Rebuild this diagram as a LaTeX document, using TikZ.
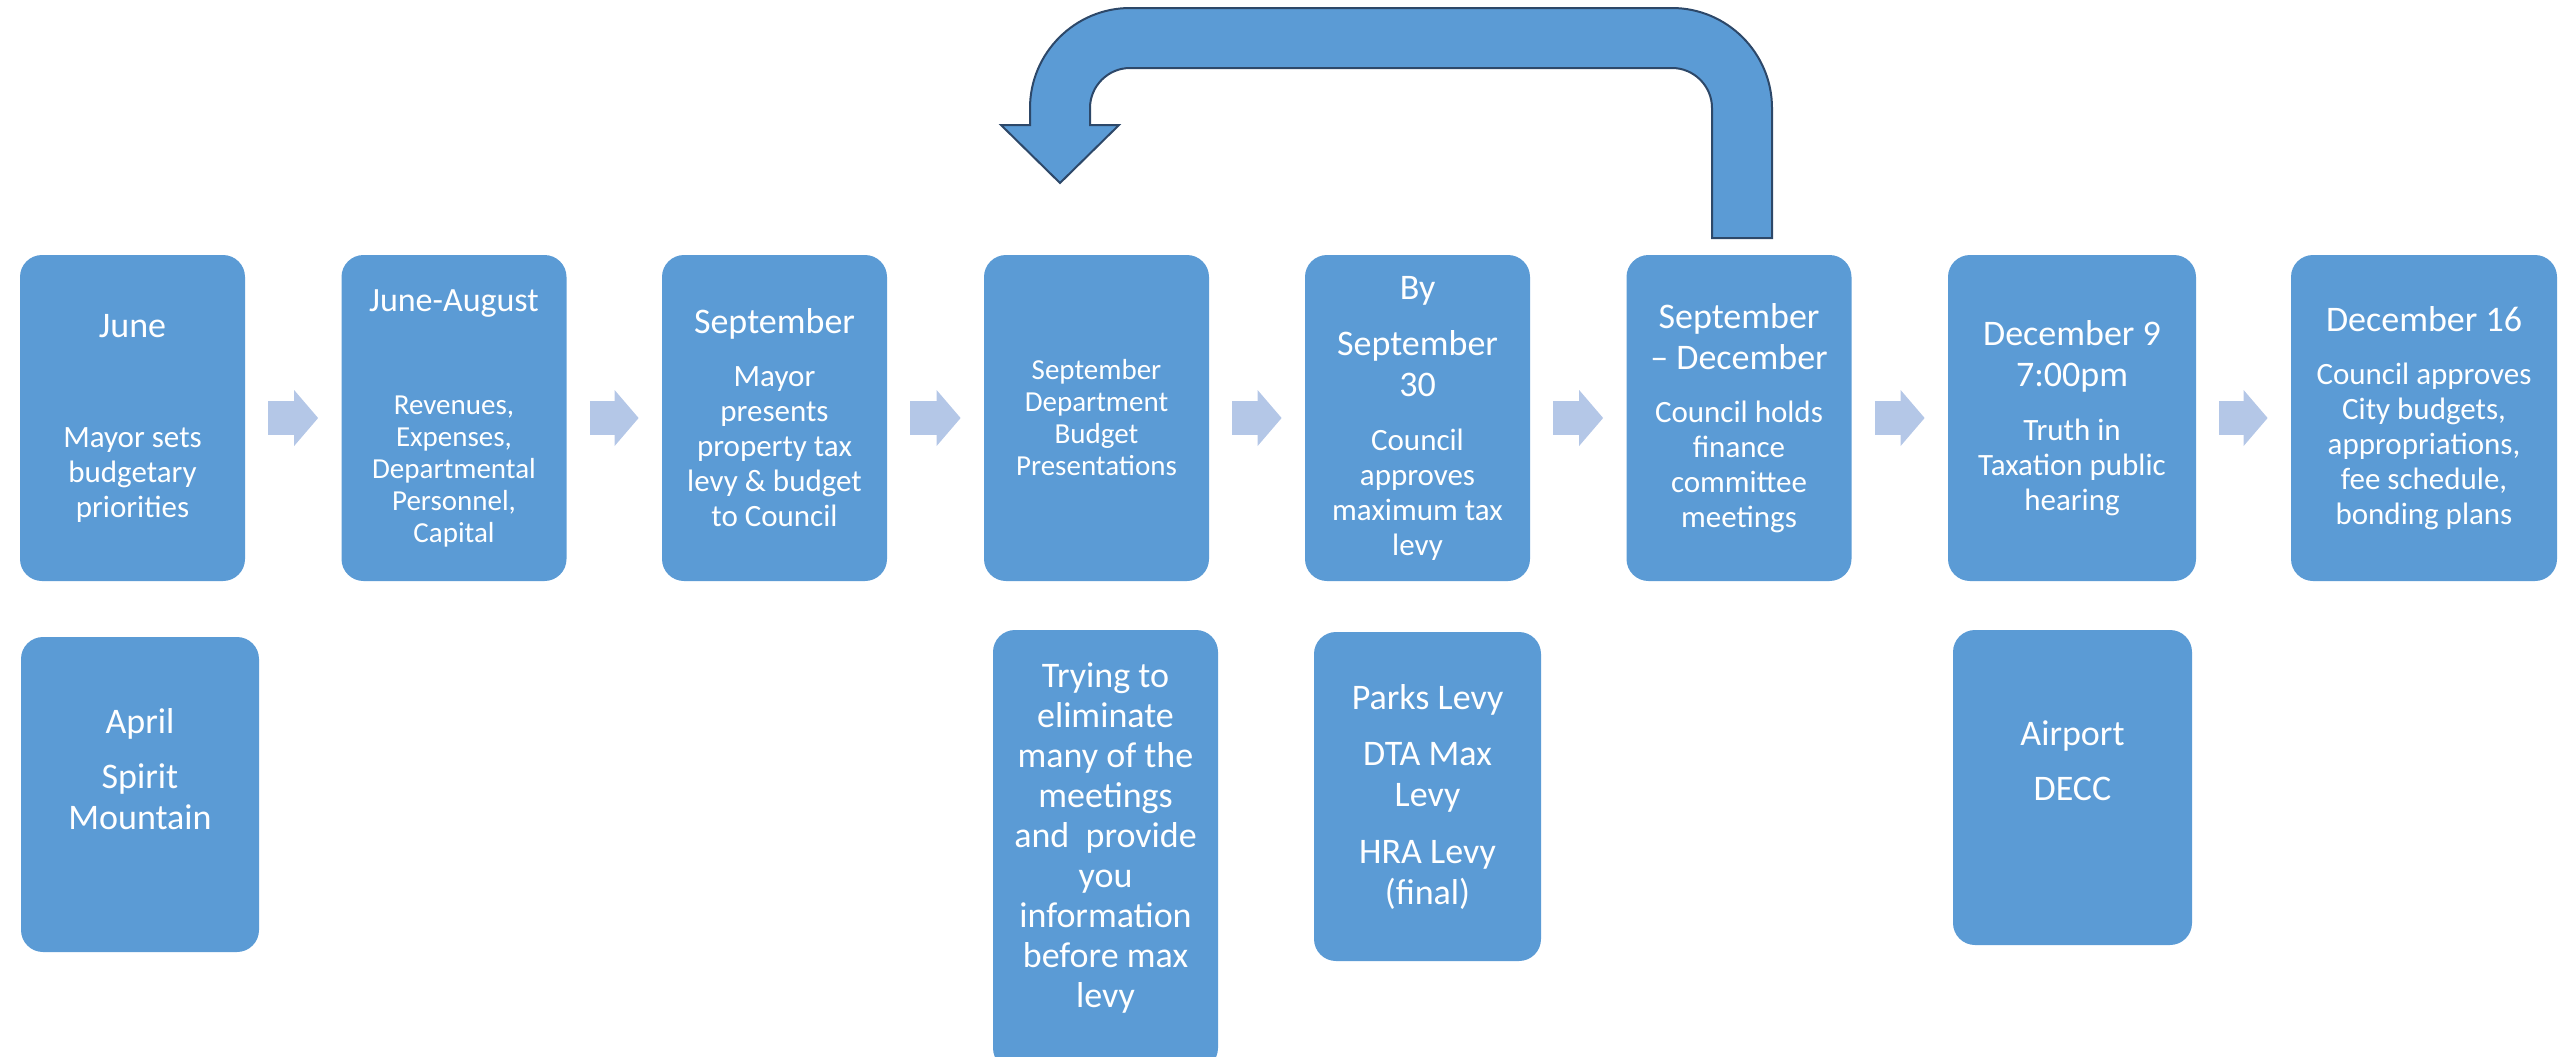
\documentclass[tikz,border=0pt]{standalone}
\usepackage{fontspec}
\setmainfont{Carlito}
\usetikzlibrary{arrows.meta}

\definecolor{boxblue}{RGB}{91,155,213}
\definecolor{stepblue}{RGB}{180,199,231}
\definecolor{edgeblue}{RGB}{45,72,105}

\newcommand{\fs}[2]{\fontsize{#1}{#2}\selectfont}
\newcommand{\ttl}{\fs{18}{20.5}}

\tikzset{
  stage/.style={rectangle, rounded corners=11pt, fill=boxblue, text=white, align=center,
    inner sep=0pt, minimum width=112.5pt, minimum height=163pt, font=\fs{15.5}{17.5}},
  note/.style={stage, font=\ttl},
  flow/.style={draw=stepblue, line width=17pt, -{Triangle[length=12pt,width=28pt,line width=0pt]},
    shorten <=11.5pt, shorten >=11.5pt},
  uturn/.style={fill=boxblue, draw=edgeblue, line width=1pt, line join=miter},
}

\begin{document}
\begin{tikzpicture}[x=0.5pt,y=-0.5pt]
  \useasboundingbox (0,0) rectangle (2560,1056);

  % Calendar steps
  \node[stage] (june) at (132.5,418) {{\ttl June}\\[37.5pt]Mayor sets\\budgetary\\priorities};
  \node[stage,font=\fs{14.5}{16}] (junaug) at (454,418) {{\fs{17}{20}June-August}\\[35.5pt]Revenues,\\Expenses,\\Departmental\\Personnel,\\Capital};
  \node[stage] (sept) at (774.5,418) {{\ttl September}\\[9pt]Mayor\\presents\\property tax\\levy \& budget\\to Council};
  \node[stage,font=\fs{14.5}{16}] (deptpres) at (1096.5,418) {September\\Department\\Budget\\Presentations};
  \node[stage] (maxlevy) at (1417.5,418) {{\ttl By}\\[10.5pt]{\ttl September}\\[3pt]{\ttl 30}\\[9.5pt]Council\\approves\\maximum tax\\levy};
  \node[stage] (finance) at (1739,418) {{\ttl September}\\[3pt]{\ttl -- December}\\[9pt]Council holds\\finance\\committee\\meetings};
  \node[stage,minimum width=124pt] (hearing) at (2072,418) {{\ttl December 9}\\[3pt]{\ttl 7:00pm}\\[9.5pt]Truth in\\Taxation public\\hearing};
  \node[stage,minimum width=133pt] (approve) at (2424,418) {{\ttl December 16}\\[9pt]Council approves\\City budgets,\\appropriations,\\fee schedule,\\bonding plans};

  \draw[flow] (june) -- (junaug);
  \draw[flow] (junaug) -- (sept);
  \draw[flow] (sept) -- (deptpres);
  \draw[flow] (deptpres) -- (maxlevy);
  \draw[flow] (maxlevy) -- (finance);
  \draw[flow] (finance) -- (hearing);
  \draw[flow] (hearing) -- (approve);

  % Loop back
  \draw[uturn] (1712,238) -- (1712,108) .. controls (1712,86) and (1694,68) .. (1672,68)
    -- (1130,68) .. controls (1108,68) and (1090,86) .. (1090,108) -- (1090,125)
    -- (1119,125) -- (1060,183) -- (1001,125) -- (1030,125) -- (1030,108)
    .. controls (1030,53) and (1075,8) .. (1130,8) -- (1672,8)
    .. controls (1727,8) and (1772,53) .. (1772,108) -- (1772,238) -- cycle;

  % Notes below
  \node[note,minimum width=119pt,minimum height=157.5pt] (april) at (140,794.5) {April\\[7pt]Spirit\\Mountain\\[5.5pt]\mbox{}};
  \node[note,font=\fs{18}{20},minimum height=220pt] (meetings) at (1105.5,850) {Trying to\\eliminate\\many of the\\meetings\\and~ provide\\you\\information\\before max\\levy\\[-5pt]\mbox{}};
  \node[note,minimum width=113.5pt,minimum height=164.5pt] (levies) at (1427.5,796.5) {Parks Levy\\[7.5pt]DTA Max\\Levy\\[8pt]HRA Levy\\(final)};
  \node[note,minimum width=119.5pt,minimum height=157.5pt] (airport) at (2072.5,787.5) {Airport\\[7pt]DECC\\[6pt]\mbox{}};

\end{tikzpicture}
\end{document}
